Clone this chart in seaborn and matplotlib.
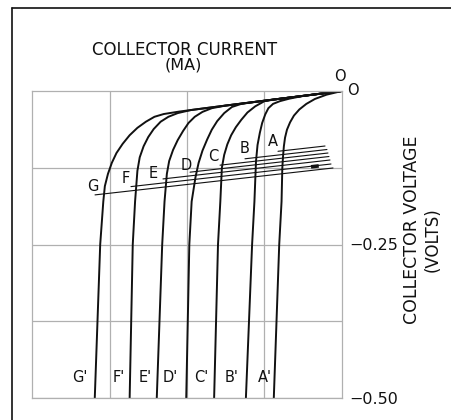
import numpy as np
import pandas as pd
import matplotlib
matplotlib.use('Agg')
import matplotlib.pyplot as plt
import seaborn as sns
from matplotlib.lines import Line2D

# collector current in grid divisions (0 at the right edge), collector voltage in volts
curve_names = ['A', 'B', 'C', 'D', 'E', 'F', 'G']

a_cur = [0, 0.2, 0.35, 0.46, 0.55, 0.62, 0.67, 0.71, 0.735, 0.75, 0.76, 0.77, 0.78, 0.81, 0.88]
a_volt = [0, -0.006, -0.013, -0.021, -0.030, -0.040, -0.051, -0.063, -0.076, -0.09, -0.105, -0.125, -0.18, -0.25, -0.5]

b_cur = [0, 0.3, 0.52, 0.68, 0.80, 0.89, 0.95, 0.99, 1.03, 1.06, 1.09, 1.11, 1.13, 1.16, 1.24]
b_volt = [0, -0.0047, -0.0085, -0.0125, -0.0165, -0.021, -0.028, -0.038, -0.052, -0.068, -0.088, -0.115, -0.18, -0.25, -0.5]

c_cur = [0, 0.5, 0.85, 1.0, 1.12, 1.22, 1.30, 1.37, 1.43, 1.48, 1.52, 1.55, 1.57, 1.60, 1.65]
c_volt = [0, -0.0079, -0.0134, -0.0165, -0.025, -0.035, -0.047, -0.059, -0.072, -0.087, -0.104, -0.125, -0.18, -0.25, -0.5]

d_cur = [0, 0.6, 1.1, 1.3, 1.42, 1.52, 1.61, 1.68, 1.74, 1.80, 1.85, 1.89, 1.94, 1.97, 2.01]
d_volt = [0, -0.0095, -0.0174, -0.021, -0.026, -0.036, -0.049, -0.063, -0.079, -0.097, -0.117, -0.14, -0.18, -0.25, -0.5]

e_cur = [0, 0.8, 1.5, 1.68, 1.80, 1.90, 1.98, 2.05, 2.12, 2.18, 2.23, 2.26, 2.29, 2.32, 2.39]
e_volt = [0, -0.0126, -0.0237, -0.028, -0.034, -0.042, -0.052, -0.065, -0.080, -0.096, -0.114, -0.135, -0.18, -0.25, -0.5]

f_cur = [0, 0.8, 1.6, 1.95, 2.12, 2.24, 2.34, 2.43, 2.50, 2.56, 2.61, 2.64, 2.67, 2.70, 2.74]
f_volt = [0, -0.0126, -0.0253, -0.031, -0.036, -0.042, -0.050, -0.062, -0.075, -0.090, -0.108, -0.13, -0.18, -0.25, -0.5]

g_cur = [0, 0.8, 1.6, 2.1, 2.3, 2.42, 2.53, 2.64, 2.74, 2.83, 2.91, 2.97, 3.02, 3.06, 3.08, 3.12, 3.19]
g_volt = [0, -0.0126, -0.0253, -0.0335, -0.0375, -0.042, -0.050, -0.060, -0.072, -0.086, -0.101, -0.117, -0.135, -0.155, -0.18, -0.25, -0.5]

# nearly horizontal lines drawn from each knee to the right
line_start_cur = [0.826, 1.252, 1.574, 1.961, 2.310, 2.723, 3.187]
line_start_volt = [-0.0982, -0.1104, -0.1208, -0.1322, -0.1432, -0.1557, -0.1692]
line_end_cur = [0.219, 0.194, 0.181, 0.168, 0.155, 0.142, 0.116]
line_end_volt = [-0.0896, -0.0953, -0.1010, -0.1067, -0.1124, -0.1189, -0.1254]

# letter positions
knee_label_cur = [0.89, 1.26, 1.66, 2.01, 2.44, 2.79, 3.21]
knee_label_volt = [-0.083, -0.093, -0.107, -0.121, -0.135, -0.143, -0.156]
end_label_cur = [0.99, 1.43, 1.81, 2.21, 2.54, 2.88, 3.38]
end_label_volt = [-0.467] * 7

curves = [(a_cur, a_volt), (b_cur, b_volt), (c_cur, c_volt), (d_cur, d_volt),
          (e_cur, e_volt), (f_cur, f_volt), (g_cur, g_volt)]

rows = []
for name, (cur, volt) in zip(curve_names, curves):
    for i, (c, v) in enumerate(zip(cur, volt)):
        rows.append({'curve': name, 'order': i, 'current': c, 'voltage': v})
df = pd.DataFrame(rows)

line_rows = []
for name, c0, v0, c1, v1 in zip(curve_names, line_start_cur, line_start_volt, line_end_cur, line_end_volt):
    line_rows.append({'curve': name, 'current': c0, 'voltage': v0})
    line_rows.append({'curve': name, 'current': c1, 'voltage': v1})
lines_df = pd.DataFrame(line_rows)

sns.set_style('white')
plt.rcParams['font.family'] = ['DejaVu Sans']

fig = plt.figure(figsize=(4.52, 4.20), dpi=100)
ax = fig.add_axes([32 / 452, 1 - 398 / 420, 310 / 452, 307 / 420])

grid_color = '#b0b0b0'
ink = '#111111'
sns.lineplot(data=df, x='current', y='voltage', units='curve', estimator=None,
             sort=False, color=ink, linewidth=1.4, ax=ax)
sns.lineplot(data=lines_df, x='current', y='voltage', units='curve', estimator=None,
             sort=False, color=ink, linewidth=0.8, ax=ax)
# small dark mark on the lower lines near the right end
ax.plot([0.30, 0.40], [-0.1220, -0.1235], color=ink, linewidth=2.6, solid_capstyle='butt')

ax.set_xlim(4, 0)
ax.set_ylim(-0.5, 0)
ax.set_xticks([1, 2, 3])
ax.set_xticklabels([])
ax.set_yticks([-0.5, -0.375, -0.25, -0.125])
ax.set_yticklabels(['\u22120.50', '', '\u22120.25', ''])
ax.yaxis.tick_right()
ax.tick_params(axis='both', length=0)
ax.tick_params(axis='y', labelsize=11.5, pad=5, labelcolor=ink)
ax.grid(True, color=grid_color, linewidth=0.9)
ax.set_axisbelow(True)
ax.set_xlabel('')
ax.set_ylabel('')
for sp in ax.spines.values():
    sp.set_color(grid_color)
    sp.set_linewidth(0.9)

for name, c, v in zip(curve_names, knee_label_cur, knee_label_volt):
    ax.text(c, v, name, fontsize=10.5, ha='center', va='center', color=ink)
for name, c, v in zip(curve_names, end_label_cur, end_label_volt):
    ax.text(c, v, name + "'", fontsize=10.5, ha='center', va='center', color=ink)

ax.text(0.03, 0.023, 'O', fontsize=10.5, ha='center', va='center', clip_on=False, color=ink)
ax.text(-0.14, 0.0016, 'O', fontsize=10.5, ha='center', va='center', clip_on=False, color=ink)

fig.text(185 / 452, 1 - 55 / 420, 'COLLECTOR CURRENT', fontsize=12, ha='center', va='baseline', color=ink)
fig.text(183 / 452, 1 - 58 / 420, '(MA)', fontsize=11.5, ha='center', va='top', color=ink)
fig.text(412 / 452, 1 - 230 / 420, 'COLLECTOR VOLTAGE', fontsize=12.5, ha='center', va='center',
         rotation=90, color=ink)
fig.text(433 / 452, 1 - 240 / 420, '(VOLTS)', fontsize=12, ha='center', va='center', rotation=90, color=ink)

# outer frame of the figure
fig.add_artist(Line2D([12 / 452, 12 / 452], [0, 1 - 8 / 420], color=ink, linewidth=1.2))
fig.add_artist(Line2D([12 / 452, 1], [1 - 8 / 420, 1 - 8 / 420], color=ink, linewidth=1.2))

fig.savefig('out.png', dpi=100)
